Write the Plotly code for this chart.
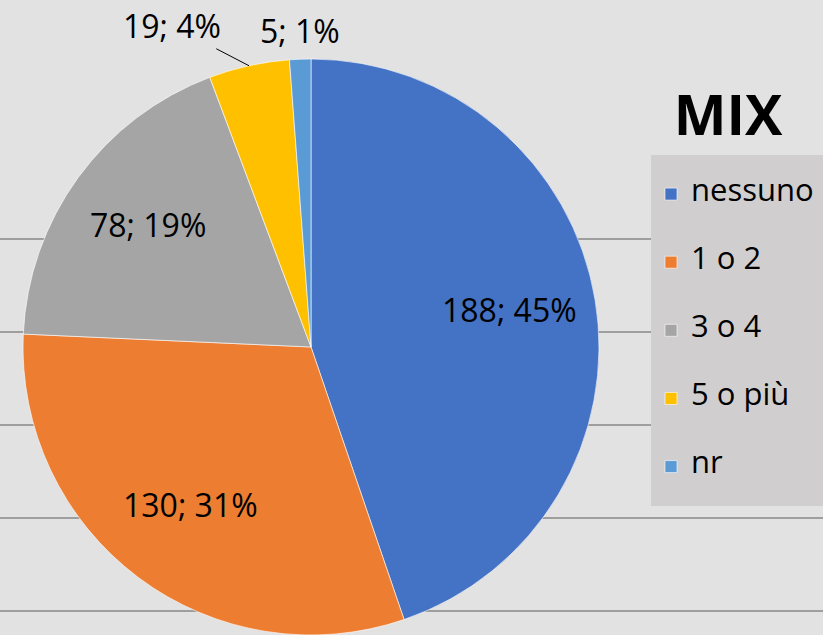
import math
import plotly.graph_objects as go

# ---- data ----
categories = ["nessuno", "1 o 2", "3 o 4", "5 o più", "nr"]
values = [188, 130, 78, 19, 5]
pct_labels = ["45%", "31%", "19%", "4%", "1%"]
colors = ["#4472C4", "#ED7D31", "#A5A5A5", "#FFC000", "#5B9BD5"]
title_text = "MIX"

W, H = 823, 635
cx, cy, R = 311, 347, 288   # pie centre / radius in pixels

pad_line = "\u00a0" * 34   # blank spacer line that also widens the legend box

fig = go.Figure()
fig.add_trace(go.Pie(
    labels=[f" <br><span style='font-size:31px'>{c}</span><br>{pad_line}" for c in categories],
    values=values,
    text=pct_labels,
    customdata=categories,
    textinfo="none",
    hovertemplate="%{customdata}: %{value}; %{text}<extra></extra>",
    marker=dict(colors=colors, line=dict(color="rgba(255,255,255,0.6)", width=1)),
    sort=False,
    direction="clockwise",
    rotation=0,
    domain=dict(x=[(cx - R) / W, (cx + R) / W], y=[1 - (cy + R) / H, 1 - (cy - R) / H]),
))

# data labels, positioned from the slice angles derived from the values
total = sum(values)
cum = 0
lab_font = dict(family="Open Sans", size=32, color="black")
for i, v in enumerate(values):
    theta = 2 * math.pi * (cum + v / 2) / total
    cum += v
    txt = f"{v}; {pct_labels[i]}"
    frac = v / total
    if frac > 0.1:
        k = 0.7
        px = cx + k * R * math.sin(theta)
        py = cy - k * R * math.cos(theta)
        fig.add_annotation(x=px / W, y=1 - py / H, xref="paper", yref="paper",
                           text=txt, showarrow=False, font=lab_font,
                           xanchor="center", yanchor="middle", yshift=4)
    else:
        px = cx + R * math.sin(theta)
        py = cy - R * math.cos(theta)
        if frac > 0.03:
            fig.add_annotation(x=px / W, y=1 - py / H, xref="paper", yref="paper",
                               text=txt, showarrow=True, arrowhead=0, arrowwidth=1,
                               arrowcolor="black", ax=-77, ay=-40, standoff=0,
                               font=lab_font)
        else:
            fig.add_annotation(x=px / W, y=1 - py / H, xref="paper", yref="paper",
                               text=txt, showarrow=False, font=lab_font,
                               xanchor="center", yanchor="middle", yshift=29)

# faint horizontal background lines
for yy in [239, 332, 425, 518, 611]:
    fig.add_shape(type="line", xref="paper", yref="paper", x0=0, x1=1,
                  y0=1 - yy / H, y1=1 - yy / H, layer="below",
                  line=dict(color="#9e9e9e", width=2))

fig.update_layout(
    width=W, height=H,
    margin=dict(l=0, r=0, t=0, b=0, autoexpand=False),
    paper_bgcolor="#e2e2e2",
    plot_bgcolor="#e2e2e2",
    font=dict(family="Open Sans", color="black"),
    title=dict(text="<b>" + title_text + "</b>", x=728 / W, xanchor="center",
               y=1 - 115 / H, yanchor="middle",
               font=dict(size=56, family="Open Sans", color="black")),
    showlegend=True,
    legend=dict(x=651 / W, xanchor="left", y=1 - 155 / H, yanchor="top",
                bgcolor="#d0cece", font=dict(size=16.7, family="Open Sans", color="black"),
                valign="middle", itemclick=False, itemdoubleclick=False),
)

fig.write_html("out.html",
               config={"displayModeBar": False},
               post_script="document.body.style.margin='0';document.body.style.padding='0';")
